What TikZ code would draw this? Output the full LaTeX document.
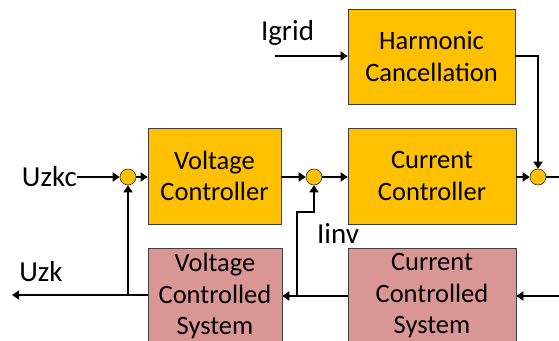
\documentclass[tikz,border=0pt]{standalone}
\usepackage{fontspec}
\setmainfont{Carlito}
\usetikzlibrary{arrows.meta}
\definecolor{boxorange}{HTML}{FFC000}
\definecolor{boxpink}{HTML}{DA9694}
\begin{document}
\begin{tikzpicture}[x=1pt,y=-1pt,
  font=\fontsize{26.5}{31.5}\selectfont,
  blk/.style={draw=black!75,line width=0.6pt,align=center,inner sep=0pt,anchor=center},
  ctrl/.style={blk,fill=boxorange},
  plant/.style={blk,fill=boxpink},
  sumc/.style={circle,draw=black!80,fill=boxorange,line width=0.6pt,minimum size=16pt,inner sep=0pt},
  lbl/.style={inner sep=0pt,font=\fontsize{29}{34}\selectfont},
  sig/.style={line width=1.8pt,-{Triangle[length=7pt,width=9pt]}},
  wire/.style={line width=1.8pt}]
\useasboundingbox (0,0) rectangle (559,340);
\begin{scope}
\clip (0,0) rectangle (559,340);
\node[ctrl,minimum width=167pt,minimum height=95pt] (hc) at (431.5,56.5) {Harmonic\\Cancellation};
\node[ctrl,minimum width=133pt,minimum height=96pt] (vc) at (214.5,176) {Voltage\\Controller};
\node[ctrl,minimum width=168pt,minimum height=96pt] (cc) at (432,176) {Current\\Controller};
\node[plant,minimum width=134pt,minimum height=96pt] (vcs) at (215,296) {Voltage\\Controlled\\System};
\node[plant,minimum width=168pt,minimum height=96pt] (ccs) at (432,296) {Current\\Controlled\\System};
\end{scope}
\node[sumc] (c1) at (128,177) {};
\node[sumc] (c2) at (314,177) {};
\node[sumc] (c3) at (538,177) {};

\node[lbl,anchor=east] (uzkc) at (77,177) {Uzkc};
\node[lbl] (uzk) at (41,272) {Uzk};
\node[lbl] (igrid) at (287.5,33) {Igrid};
\node[lbl] (iinv) at (338,234) {Iinv};

\coordinate (igin) at (275,56);
\coordinate (uzkout) at (12,295);
\coordinate (rin) at (559,296);
\coordinate (rout) at (559,177);
\coordinate (tap1) at (128,295);
\coordinate (tap2) at (297,296);

\draw[sig] (uzkc.east) -- (c1.west);
\draw[sig] (c1.east) -- (vc.west |- c1.east);
\draw[sig] (vc.east |- c2.west) -- (c2.west);
\draw[sig] (c2.east) -- (cc.west |- c2.east);
\draw[sig] (cc.east |- c3.west) -- (c3.west);
\draw[wire] (c3.east) -- (rout);
\draw[sig] (igin) -- (hc.west |- igin);
\draw[sig] (hc.east |- igin) -| (c3.north);
\draw[sig] (rin) -- (ccs.east |- rin);
\draw[sig] (ccs.west |- rin) -- (vcs.east |- rin);
\draw[sig] (tap2) |- (304,212) -| (c2.south);
\draw[sig] (vcs.west |- tap1) -- (uzkout);
\draw[sig] (tap1) -- (c1.south);
\end{tikzpicture}
\end{document}
